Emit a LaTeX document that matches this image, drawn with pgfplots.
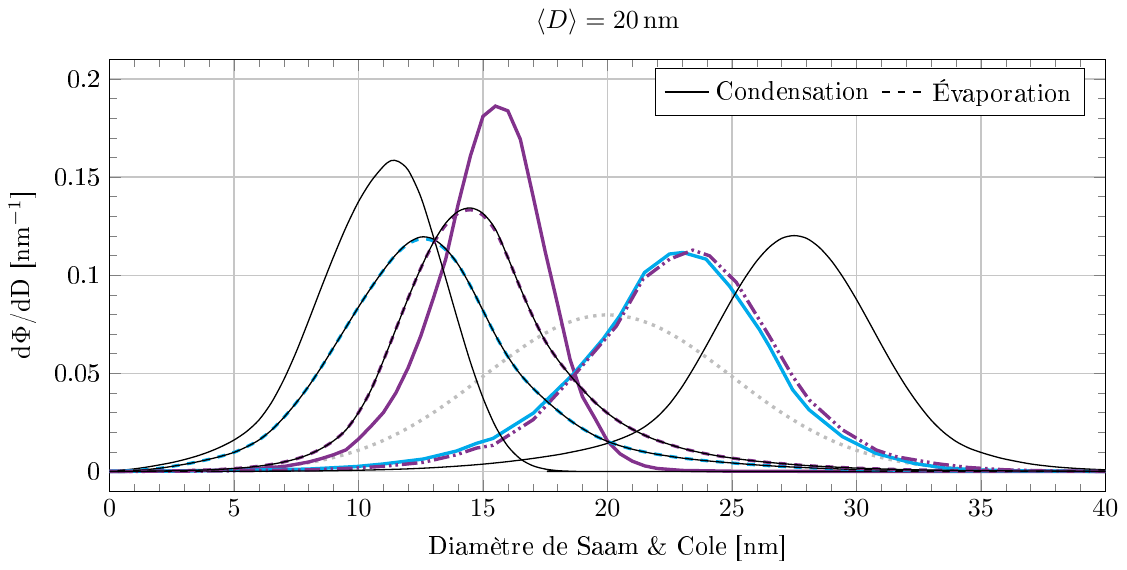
\documentclass[border=0pt]{standalone}
\usepackage[T1]{fontenc}
\usepackage{pgfplots}
\pgfplotsset{compat=1.18}
\definecolor{myPurple}{RGB}{130,50,140}
\definecolor{myCyan}{RGB}{0,170,235}
\definecolor{myGray}{RGB}{190,190,190}
\begin{document}
\begin{tikzpicture}
\begin{axis}[
  scale only axis,
  width=383pt, height=166pt,
  xmin=0, xmax=40, ymin=-0.01, ymax=0.21,
  xtick={0,5,...,40},
  ytick={0,0.05,0.1,0.15,0.2},
  yticklabels={0,0.05,0.1,0.15,0.2},
  minor x tick num=4, minor y tick num=4,
  grid=major,
  major grid style={gray!45, line width=0.5pt},
  title={$\langle D\rangle = 20\,\mathrm{nm}$},
  xlabel={Diamètre de Saam \& Cole [nm]},
  ylabel={d$\Phi$/dD [nm$^{-1}$]},
  legend columns=2,
  legend style={at={(0.98,0.98)}, anchor=north east, draw=black, /tikz/every even column/.append style={column sep=2pt}},
]
\addlegendimage{black, line width=1pt}
\addlegendentry{Condensation}
\addlegendimage{black, dashed, line width=1pt}
\addlegendentry{Évaporation}

% H gray dotted
\addplot[forget plot, smooth, myGray, dotted, line width=1.3pt] coordinates {
(0,0.00003) (1,0.00006) (2,0.00012) (3,0.00025) (4,0.00048) (5,0.00089) (6,0.00158) (7,0.00272) (8,0.00448) (9,0.0071) (10,0.0108) (11,0.0158) (12,0.0222) (13,0.0299) (14,0.0388) (15,0.0484) (16,0.0579) (17,0.0667) (18,0.0737) (19,0.0782) (20,0.0798)
(21,0.0782) (22,0.0737) (23,0.0667) (24,0.0579) (25,0.0484) (26,0.0388) (27,0.0299) (28,0.0222) (29,0.0158) (30,0.0108) (31,0.0071) (32,0.00448) (33,0.00272) (34,0.00158) (35,0.00089) (36,0.00048) (37,0.00025) (38,0.00012) (39,0.00006) (40,0.00003)};

% E purple solid
\addplot[forget plot, myPurple, line width=1.3pt] coordinates {
(0,0) (2,0.0001) (4,0.0005) (6,0.0015) (7,0.0025) (8,0.0048) (8.5,0.0065) (9,0.0085) (9.5,0.011) (10,0.0165) (10.5,0.023) (11,0.030) (11.5,0.040) (12,0.053) (12.5,0.069) (13,0.088) (13.5,0.108) (14,0.136) (14.5,0.161) (15,0.181) (15.5,0.1862) (16,0.1838) (16.5,0.1693) (17,0.141) (17.5,0.112) (18,0.085) (18.5,0.057) (19,0.038) (19.5,0.027) (20,0.0155) (20.5,0.009) (21,0.0052) (21.5,0.0028) (22,0.0015) (23,0.0005) (25,0.0001) (30,0) (40,0)};

% F cyan solid
\addplot[forget plot, myCyan, line width=1.3pt] coordinates {
(0,0) (3,0.0002) (5,0.0005) (8,0.0012) (9.92,0.0025) (11,0.0038) (12.6,0.0063) (13.94,0.0104) (14.74,0.0143) (15.4,0.0168) (17.02,0.0297) (18.62,0.0495) (19.82,0.0674) (20.49,0.0792) (21.49,0.1014) (22.49,0.1108) (23.03,0.1116) (23.96,0.1082) (24.9,0.0945) (26.1,0.0724) (26.5,0.0638) (27.44,0.0416) (28.1,0.0314) (29.44,0.0177) (30.78,0.0092) (32.3,0.0041) (33.5,0.0018) (35,0.0007) (37,0.0002) (40,0)};

% G purple dash dot dot
\addplot[forget plot, myPurple, line width=1.3pt, dash pattern=on 6pt off 1.5pt on 1pt off 1.5pt on 1pt off 1.5pt] coordinates {
(0,0) (3,0.0001) (5,0.0003) (8,0.0008) (9.92,0.0017) (11,0.0026) (12.6,0.0046) (13.94,0.0085) (14.74,0.0119) (15.4,0.0133) (17.02,0.0264) (18.62,0.0484) (20.36,0.0741) (21.43,0.098) (22.5,0.1082) (23.43,0.1128) (24.1,0.1099) (25.18,0.0963) (26.5,0.069) (27.44,0.0485) (28.1,0.0365) (29.44,0.0212) (30.8,0.0109) (31.6,0.0075) (33.2,0.004) (34.5,0.002) (36,0.0008) (38,0.0002) (40,0)};

% D black
\addplot[forget plot, smooth, black, line width=0.5pt] coordinates {
(0,0) (5,0.0001) (8,0.0002) (10,0.0006) (11,0.0009) (12,0.0013) (13,0.0019) (14,0.0027) (15,0.0037) (16,0.0050) (17,0.0066) (18,0.0085) (18.5,0.0097) (19,0.0110) (19.5,0.0125) (20,0.0143) (20.5,0.0165) (21,0.0192) (21.5,0.0228) (22,0.0278) (22.5,0.0345) (23,0.0432) (23.5,0.0535) (24,0.0647) (24.5,0.0763) (25,0.0877) (25.5,0.0982) (26,0.1073) (26.5,0.1143) (27,0.1188) (27.5,0.1202) (28,0.1188) (28.5,0.1143) (29,0.1073) (29.5,0.0982) (30,0.0877) (30.5,0.0763) (31,0.0647) (31.5,0.0535) (32,0.0432) (32.5,0.0341) (33,0.0262) (33.5,0.0200) (34,0.0153) (34.5,0.0120) (35,0.0097) (35.5,0.0078) (36,0.0062) (37,0.0038) (38,0.0023) (39,0.0014) (40,0.0008)};

% A black
\addplot[forget plot, smooth, black, line width=0.5pt] coordinates {
(0,0) (0.5,0.0006) (1,0.0013) (1.5,0.0022) (2,0.0033) (2.5,0.0045) (3,0.0060) (3.5,0.0078) (4,0.0100) (4.5,0.0127) (5,0.0160) (5.5,0.0203) (6,0.0262) (6.5,0.0350) (7,0.0468) (7.5,0.0610) (8,0.0770) (8.5,0.0935) (9,0.1095) (9.5,0.1245) (10,0.1375) (10.5,0.1478) (11,0.1555) (11.3,0.1584) (11.6,0.1580) (12,0.1535) (12.5,0.1400) (13,0.1200) (13.5,0.0985) (14,0.0765) (14.5,0.0555) (15,0.0375) (15.5,0.0230) (16,0.0128) (16.5,0.0064) (17,0.0029) (17.5,0.0012) (18,0.0004) (18.5,0.0001) (19,0) (40,0)};

% B cyan dashed + black
\addplot[forget plot, smooth, myCyan, dashed, line width=1.2pt] coordinates {
(0,0) (1,0.0005) (2,0.0016) (3,0.0036) (3.5,0.0048) (4,0.0062) (4.5,0.0078) (5,0.0097) (5.5,0.0125) (6,0.016) (6.5,0.021) (7,0.0275) (7.5,0.035) (8,0.0435) (8.5,0.053) (9,0.0632) (9.5,0.0735) (10,0.0838) (10.5,0.0935) (11,0.1025) (11.5,0.1105) (12,0.1160) (12.5,0.1185) (13,0.1175) (13.5,0.1130) (14,0.1055) (14.5,0.0945) (15,0.082) (15.5,0.0695) (16,0.0585) (16.5,0.0495) (17,0.0425) (17.5,0.0365) (18,0.031) (18.5,0.026) (19,0.0218) (19.5,0.0182) (20,0.0153) (20.5,0.0131) (21,0.0113) (21.5,0.0099) (22,0.0087) (23,0.0068) (24,0.0054) (25,0.0043) (26,0.0033) (27,0.0025) (28,0.0019) (29,0.0014) (30,0.0010) (32,0.0005) (34,0.0002) (37,0.0001) (40,0)};
\addplot[forget plot, smooth, black, line width=0.5pt] coordinates {
(0,0) (1,0.0005) (2,0.0016) (3,0.0036) (3.5,0.0048) (4,0.0062) (4.5,0.0078) (5,0.0097) (5.5,0.0125) (6,0.016) (6.5,0.021) (7,0.0275) (7.5,0.035) (8,0.0435) (8.5,0.053) (9,0.0632) (9.5,0.0735) (10,0.0838) (10.5,0.0935) (11,0.1025) (11.5,0.1105) (12,0.1165) (12.5,0.1195) (13,0.1185) (13.5,0.1135) (14,0.1055) (14.5,0.0945) (15,0.082) (15.5,0.0695) (16,0.0585) (16.5,0.0495) (17,0.0425) (17.5,0.0365) (18,0.031) (18.5,0.026) (19,0.0218) (19.5,0.0182) (20,0.0153) (20.5,0.0131) (21,0.0113) (21.5,0.0099) (22,0.0087) (23,0.0068) (24,0.0054) (25,0.0043) (26,0.0033) (27,0.0025) (28,0.0019) (29,0.0014) (30,0.0010) (32,0.0005) (34,0.0002) (37,0.0001) (40,0)};

% C purple dashed + black
\addplot[forget plot, smooth, myPurple, dashed, line width=1.2pt] coordinates {
(0,0) (2,0.0002) (4,0.0008) (5,0.0015) (5.5,0.002) (6,0.0027) (6.5,0.0036) (7,0.0048) (7.5,0.0064) (8,0.0086) (8.5,0.0116) (9,0.0156) (9.5,0.0212) (10,0.030) (10.5,0.0415) (11,0.0565) (11.5,0.0725) (12,0.0885) (12.5,0.1035) (13,0.1160) (13.5,0.1255) (14,0.1315) (14.5,0.1333) (15,0.1305) (15.5,0.1225) (16,0.109) (16.5,0.0935) (17,0.079) (17.5,0.0665) (18,0.057) (18.5,0.049) (19,0.0418) (19.5,0.0352) (20,0.0297) (20.5,0.0252) (21,0.0215) (21.5,0.0184) (22,0.0158) (23,0.0118) (24,0.0089) (25,0.0068) (26,0.0052) (27,0.0040) (28,0.0030) (29,0.0023) (30,0.0017) (32,0.0009) (34,0.0005) (37,0.0002) (40,0.0001)};
\addplot[forget plot, smooth, black, line width=0.5pt] coordinates {
(0,0) (2,0.0002) (4,0.0008) (5,0.0015) (5.5,0.002) (6,0.0027) (6.5,0.0036) (7,0.0048) (7.5,0.0064) (8,0.0086) (8.5,0.0116) (9,0.0156) (9.5,0.0212) (10,0.030) (10.5,0.0415) (11,0.0565) (11.5,0.0725) (12,0.0885) (12.5,0.1035) (13,0.1165) (13.5,0.1265) (14,0.1325) (14.5,0.1343) (15,0.1315) (15.5,0.1235) (16,0.109) (16.5,0.0935) (17,0.079) (17.5,0.0665) (18,0.057) (18.5,0.049) (19,0.0418) (19.5,0.0352) (20,0.0297) (20.5,0.0252) (21,0.0215) (21.5,0.0184) (22,0.0158) (23,0.0118) (24,0.0089) (25,0.0068) (26,0.0052) (27,0.0040) (28,0.0030) (29,0.0023) (30,0.0017) (32,0.0009) (34,0.0005) (37,0.0002) (40,0.0001)};
\end{axis}
\end{tikzpicture}
\end{document}
